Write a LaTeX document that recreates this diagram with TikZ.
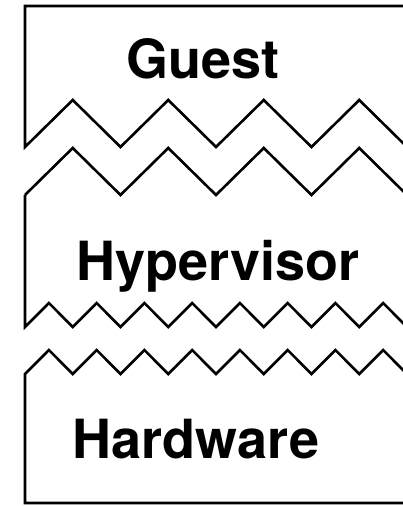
\documentclass[tikz,border=0pt]{standalone}
\usepackage{fontspec}
\setmainfont{TeX Gyre Heros}
\begin{document}
\begin{tikzpicture}[x=1pt,y=-1pt,
  edge/.style={line width=2.6pt,line join=miter,black},
  layer/.style={font=\fontsize{54}{60}\selectfont\bfseries,anchor=base,inner sep=0pt}]
\useasboundingbox (0,0) rectangle (403,506);
\fill[white] (0,0) rectangle (403,506);
\clip (0,0) rectangle (403,506);
% Guest layer: top and left edges, torn with a wide zigzag at the bottom
\draw[edge] (420,6) -- (25,6) -- (25,147)
  \foreach \k in {0,...,4} { -- ({72.75+95.5*\k},100) -- ({120.5+95.5*\k},147) };
% Hypervisor layer: wide zigzag on top, narrow zigzag at the bottom
\draw[edge] (25,195)
  \foreach \k in {0,...,4} { -- ({72.75+95.5*\k},148) -- ({120.5+95.5*\k},195) };
\draw[edge] (25,195) -- (25,327)
  \foreach \k in {0,...,8} { -- ({48.9+47.75*\k},303) -- ({72.75+47.75*\k},327) };
% Hardware layer: narrow zigzag on top, left and bottom edges
\draw[edge] (420,503) -- (25,503) -- (25,374)
  \foreach \k in {0,...,8} { -- ({48.9+47.75*\k},350) -- ({72.75+47.75*\k},374) };
\node[layer] (guest) at (203,78) {Guest};
\node[layer] (hyper) at (218,280) {Hypervisor};
\node[layer] (hw) at (196,458) {Hardware};
\end{tikzpicture}
\end{document}
